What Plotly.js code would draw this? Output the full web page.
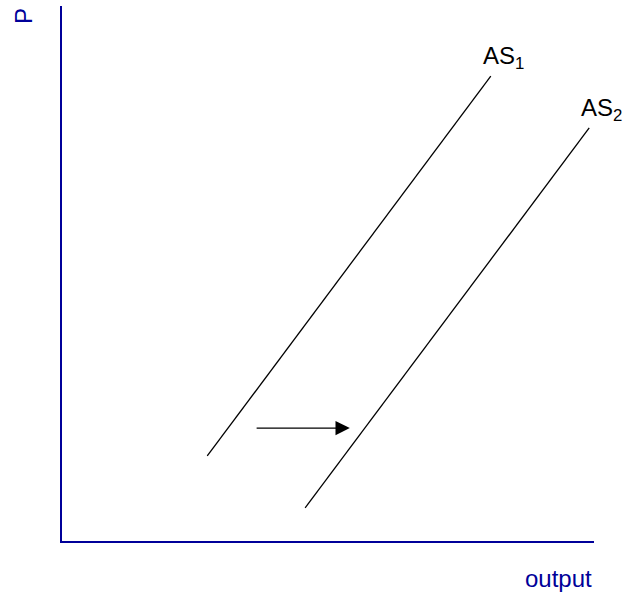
<!DOCTYPE html>
<html>
<head>
<meta charset="utf-8">
<script src="https://cdn.plot.ly/plotly-3.0.1.min.js"></script>
<style>html,body{margin:0;padding:0;background:#fff;}#chart{width:625px;height:594px;}</style>
</head>
<body>
<div id="chart"></div>
<script>
// AS curves (data units: x 0-100 output, y 0-100 price)
var as1X = [27.3, 80.6];
var as1Y = [15.9, 86.9];
var as2X = [45.7, 99.1];
var as2Y = [6.2, 77.2];
// shift arrow
var arrowFromX = 36.3;
var arrowToX = 54.1;
var arrowY = 21.1;
// curve labels (paper coords)
var labelNames = ["AS<sub>1</sub>", "AS<sub>2</sub>"];
var labelX = [0.830, 1.015];
var labelY = [0.904, 0.806];

var axisColor = "#000099";
var fontFam = "Liberation Sans, Arial, sans-serif";

var traces = [
  {x: as1X, y: as1Y, mode: "lines", line: {color: "#000", width: 1.3}, hoverinfo: "skip", cliponaxis: false},
  {x: as2X, y: as2Y, mode: "lines", line: {color: "#000", width: 1.3}, hoverinfo: "skip", cliponaxis: false}
];

var W = 625, H = 594, mL = 62, mR = 31, mT = 6, mB = 53;
var pw = W - mL - mR, ph = H - mT - mB;

var annotations = [];
for (var i = 0; i < labelNames.length; i++) {
  annotations.push({x: labelX[i], y: labelY[i], xref: "paper", yref: "paper", text: labelNames[i],
    xanchor: "center", yanchor: "middle",
    showarrow: false, font: {family: fontFam, size: 24, color: "#000"}});
}
annotations.push({x: arrowToX, y: arrowY, ax: arrowFromX, ay: arrowY, xref: "x", yref: "y",
  axref: "x", ayref: "y", showarrow: true, arrowhead: 2, arrowsize: 2.2, arrowwidth: 1.3,
  arrowcolor: "#000", text: "", standoff: 0});
annotations.push({x: (23 - mL) / pw, y: (H - mB - 16) / ph, xref: "paper", yref: "paper", text: "P",
  showarrow: false, textangle: -90, xanchor: "center", yanchor: "middle",
  font: {family: fontFam, size: 24, color: axisColor}});
annotations.push({x: (558 - mL) / pw, y: (H - mB - 578) / ph, xref: "paper", yref: "paper",
  text: "output", showarrow: false, xanchor: "center", yanchor: "middle",
  font: {family: fontFam, size: 24, color: axisColor}});

var layout = {
  width: W, height: H,
  margin: {l: mL, r: mR, t: mT, b: mB, pad: 0},
  paper_bgcolor: "#fff", plot_bgcolor: "#fff",
  showlegend: false,
  xaxis: {range: [0, 100], showgrid: false, zeroline: false, showticklabels: false, ticks: "",
    showline: true, linecolor: axisColor, linewidth: 2, fixedrange: true},
  yaxis: {range: [0, 100], showgrid: false, zeroline: false, showticklabels: false, ticks: "",
    showline: true, linecolor: axisColor, linewidth: 2, fixedrange: true},
  annotations: annotations
};

Plotly.newPlot("chart", traces, layout, {staticPlot: true, displayModeBar: false});
</script>
</body>
</html>
